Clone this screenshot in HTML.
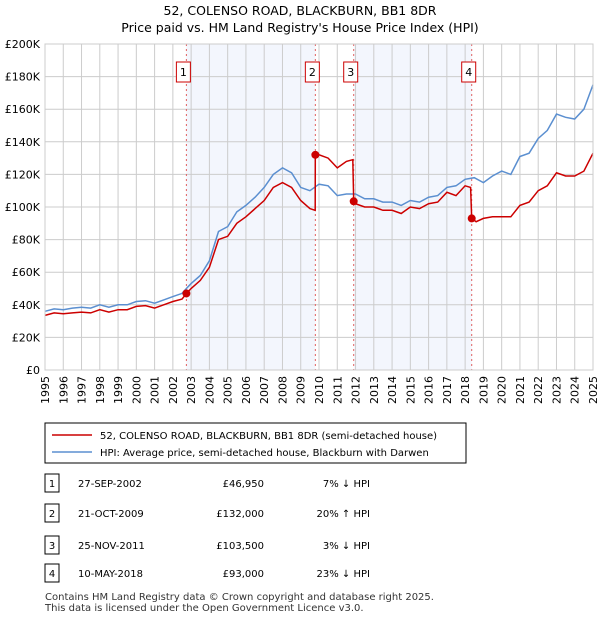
<!DOCTYPE html>
<html><head><meta charset="utf-8"><style>
body{margin:0;background:#fff;font-family:"DejaVu Sans","Liberation Sans",sans-serif;}
svg text{font-family:"DejaVu Sans","Liberation Sans",sans-serif;}
</style></head><body>
<svg id="c" width="600" height="620" xmlns="http://www.w3.org/2000/svg">
<text x="300" y="15" text-anchor="middle" font-size="12.5">52, COLENSO ROAD, BLACKBURN, BB1 8DR</text>
<text x="300" y="32" text-anchor="middle" font-size="12.5">Price paid vs. HM Land Registry's House Price Index (HPI)</text>
<g id="plot"></g>
<rect x="45" y="423" width="421" height="40" fill="#fff" stroke="#000" stroke-width="1"/>
<line x1="52" y1="435" x2="92" y2="435" stroke="#cc0000" stroke-width="1.5"/>
<text x="100" y="439" font-size="10">52, COLENSO ROAD, BLACKBURN, BB1 8DR (semi-detached house)</text>
<line x1="52" y1="452" x2="92" y2="452" stroke="#5b8fd0" stroke-width="1.5"/>
<text x="100" y="456" font-size="10">HPI: Average price, semi-detached house, Blackburn with Darwen</text>
<g id="tbl"></g>
<text x="45" y="600" font-size="10" fill="#333">Contains HM Land Registry data © Crown copyright and database right 2025.</text>
<text x="45" y="611" font-size="10" fill="#333">This data is licensed under the Open Government Licence v3.0.</text>
</svg>
<script>
const hpiYears=[1995,1995.5,1996,1996.5,1997,1997.5,1998,1998.5,1999,1999.5,2000,2000.5,2001,2001.5,2002,2002.5,2002.74,2003,2003.5,2004,2004.5,2005,2005.5,2006,2006.5,2007,2007.5,2008,2008.5,2009,2009.5,2010,2010.5,2011,2011.5,2012,2012.5,2013,2013.5,2014,2014.5,2015,2015.5,2016,2016.5,2017,2017.5,2018,2018.5,2019,2019.5,2020,2020.5,2021,2021.5,2022,2022.5,2023,2023.5,2024,2024.5,2025];
const hpiValues=[36,37.5,37,38,38.5,38,40,38.5,40,40,42,42.5,41,43,45,47,50,53,58,67,85,88,97,101,106,112,120,124,121,112,110,114,113,107,108,108,105,105,103,103,101,104,103,106,107,112,113,117,118,115,119,122,120,131,133,142,147,157,155,154,160,175];
const redYears=[1995,1995.5,1996,1996.5,1997,1997.5,1998,1998.5,1999,1999.5,2000,2000.5,2001,2001.5,2002,2002.5,2002.74,2003,2003.5,2004,2004.5,2005,2005.5,2006,2006.5,2007,2007.5,2008,2008.5,2009,2009.5,2009.79,2009.8,2010,2010.5,2011,2011.5,2011.85,2011.9,2012,2012.5,2013,2013.5,2014,2014.5,2015,2015.5,2016,2016.5,2017,2017.5,2018,2018.3,2018.36,2018.6,2019,2019.5,2020,2020.5,2021,2021.5,2022,2022.5,2023,2023.5,2024,2024.5,2025];
const redValues=[33.5,35,34.5,35,35.5,35,37,35.5,37,37,39,39.5,38,40,42,43.5,46.95,50,55,63,80,82,90,94,99,104,112,115,112,104,99,98,132,132,130,124,128,129,103.5,102,100,100,98,98,96,100,99,102,103,109,107,113,112,93,91,93,94,94,94,101,103,110,113,121,119,119,122,133];
const saleLabels=["1","2","3","4"];
const saleYears=[2002.74,2009.8,2011.9,2018.36];
const saleValues=[46.95,132,103.5,93];
const saleDates=["27-SEP-2002","21-OCT-2009","25-NOV-2011","10-MAY-2018"];
const salePrices=["£46,950","£132,000","£103,500","£93,000"];
const saleHpi=["7% ↓ HPI","20% ↑ HPI","3% ↓ HPI","23% ↓ HPI"];
const yTicks=[0,20,40,60,80,100,120,140,160,180,200];
const yTickLabels=["£0","£20K","£40K","£60K","£80K","£100K","£120K","£140K","£160K","£180K","£200K"];
const xTicks=[1995,1996,1997,1998,1999,2000,2001,2002,2003,2004,2005,2006,2007,2008,2009,2010,2011,2012,2013,2014,2015,2016,2017,2018,2019,2020,2021,2022,2023,2024,2025];

const X0=45,X1=593,Y0=370,Y1=44;
const xs=y=>X0+(y-1995)/30*(X1-X0);
const ys=v=>Y0-v/200*(Y0-Y1);
const NS="http://www.w3.org/2000/svg";
const plot=document.getElementById('plot');
function mk(t,a,p){const e=document.createElementNS(NS,t);for(const k in a)e.setAttribute(k,a[k]);(p||plot).appendChild(e);return e;}
let e;
e=mk('rect',{x:X0,y:Y1,width:X1-X0,height:Y0-Y1,fill:'#fff'});


[[0,1],[2,3]].forEach(([a,b])=>{
 e=mk('rect',{x:xs(saleYears[a]),y:Y1,width:xs(saleYears[b])-xs(saleYears[a]),height:Y0-Y1,fill:'#f3f6fd'});
 
 
});
yTicks.forEach((t,i)=>{
 e=mk('line',{x1:X0,x2:X1,y1:ys(t),y2:ys(t),stroke:'#cccccc','stroke-width':1});
 
 
 e=mk('text',{x:X0-5,y:ys(t)+4,'text-anchor':'end','font-size':11});
 e.textContent=yTickLabels[i];
 
 
});
xTicks.forEach(t=>{
 e=mk('line',{x1:xs(t),x2:xs(t),y1:Y1,y2:Y0,stroke:'#cccccc','stroke-width':1});
 
 
 e=mk('text',{x:0,y:0,'font-size':11,'text-anchor':'end',transform:`translate(${xs(t)+4},${Y0+6}) rotate(-90)`});
 e.textContent=t;
 
 
});
saleYears.forEach((y,i)=>{
 e=mk('line',{x1:xs(y),x2:xs(y),y1:Y1,y2:Y0,stroke:'#e06060','stroke-width':1,'stroke-dasharray':'2,3'});
 
 
 e=mk('rect',{x:xs(y)-10,y:62,width:14,height:20,fill:'#fff',stroke:'#cc0000','stroke-width':1});
 
 
 e=mk('text',{x:xs(y)-3,y:76,'text-anchor':'middle','font-size':11});
 e.textContent=saleLabels[i];
 
 
});
const pts=(xa,va)=>xa.map((x,i)=>xs(x).toFixed(1)+','+ys(va[i]).toFixed(1)).join(' ');
e=mk('polyline',{points:pts(hpiYears,hpiValues),fill:'none',stroke:'#5b8fd0','stroke-width':1.5});


e=mk('polyline',{points:pts(redYears,redValues),fill:'none',stroke:'#cc0000','stroke-width':1.5});


saleYears.forEach((y,i)=>{
 e=mk('circle',{cx:xs(y),cy:ys(saleValues[i]),r:4,fill:'#cc0000'});
 
 
});
e=mk('rect',{x:X0,y:Y1,width:X1-X0,height:Y0-Y1,fill:'none',stroke:'#cccccc'});


const tbl=document.getElementById('tbl');
const rowY=[484,514,546,574];
saleLabels.forEach((l,i)=>{
 const y=rowY[i];
 e=mk('rect',{x:45,y:y-10,width:14,height:18,fill:'#fff',stroke:'#000'},tbl);
 
 
 e=mk('text',{x:52,y:y+3,'text-anchor':'middle','font-size':10},tbl);e.textContent=l;
 
 
 e=mk('text',{x:78,y:y+3,'font-size':10},tbl);e.textContent=saleDates[i];
 
 
 e=mk('text',{x:264,y:y+3,'text-anchor':'end','font-size':10},tbl);e.textContent=salePrices[i];
 
 
 e=mk('text',{x:370,y:y+3,'text-anchor':'end','font-size':10},tbl);e.textContent=saleHpi[i];
 
 
});
</script>
</body></html>
